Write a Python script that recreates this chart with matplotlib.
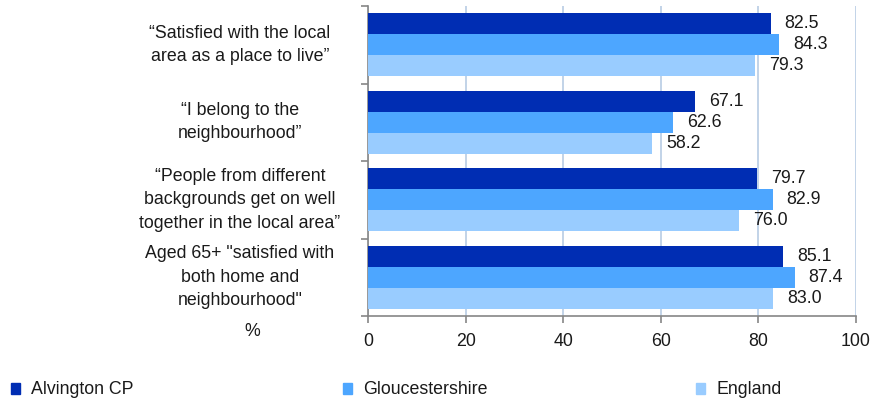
import matplotlib
matplotlib.use("Agg")
import matplotlib.pyplot as plt
import matplotlib.transforms as mtransforms
from matplotlib.patches import Rectangle
import numpy as np

plt.rcParams['font.family'] = ['Liberation Sans', 'DejaVu Sans']

categories = [
    "\u201cSatisfied with the local\narea as a place to live\u201d",
    "\u201cI belong to the\nneighbourhood\u201d",
    "\u201cPeople from different\nbackgrounds get on well\ntogether in the local area\u201d",
    "Aged 65+ \"satisfied with\nboth home and\nneighbourhood\"",
]
series_names = ["Alvington CP", "Gloucestershire", "England"]
alvington = [82.5, 67.1, 79.7, 85.1]
gloucestershire = [84.3, 62.6, 82.9, 87.4]
england = [79.3, 58.2, 76.0, 83.0]
xticks = [0, 20, 40, 60, 80, 100]

colors = ["#002DB3", "#4DA6FF", "#99CCFF"]
grid_color = "#B8CCE4"
axis_color = "#868686"
fs = 12.8

fig = plt.figure(figsize=(8.72, 4.01), dpi=100)
ax = fig.add_axes([368/872, 1-316/401, (856-368)/872, (316-6)/401])

y = np.arange(len(categories))
h = 0.272
for i, (name, vals) in enumerate(zip(series_names, [alvington, gloucestershire, england])):
    bars = ax.barh(y + (i-1)*h, vals, height=h, color=colors[i], zorder=3, label=name)
    for b, v in zip(bars, vals):
        ax.annotate(f"{v:.1f}", (v, b.get_y() + b.get_height()/2),
                    xytext=(10, 0), textcoords="offset points",
                    ha="left", va="center", fontsize=fs, color="#1a1a1a")

ax.set_xlim(0, 100)
ax.set_ylim(3.5, -0.5)
ax.set_xticks(xticks)
ax.set_xticklabels([str(t) for t in xticks], fontsize=fs)
ax.xaxis.grid(True, color=grid_color, linewidth=1.2, zorder=0)
ax.set_axisbelow(True)
ax.set_yticks([])
ax.set_yticks(np.arange(-0.5, 4.0, 1.0), minor=True)
ax.tick_params(axis='y', which='minor', length=5, color=axis_color, width=1.2, direction='out')
ax.tick_params(axis='x', length=5, color=axis_color, width=1.2, pad=7, labelcolor="#1a1a1a")
for s in ["top", "right"]:
    ax.spines[s].set_visible(False)
for s in ["left", "bottom"]:
    ax.spines[s].set_color(axis_color)
    ax.spines[s].set_linewidth(1.2)

trans = mtransforms.blended_transform_factory(ax.transAxes, ax.transData)
xc = (240 - 368) / 488
for yi, lab in zip(y, categories):
    ax.text(xc, yi, lab, transform=trans, ha="center", va="center",
            multialignment="center", fontsize=fs, linespacing=1.5, color="#1a1a1a")

fig.text(252/872, 1-332/401, "%", ha="center", va="center", fontsize=fs, color="#1a1a1a")

# legend
leg_sq_x = [11, 343, 696]
leg_tx_x = [31, 363, 716]
ly = 389
for c, name, sx, tx in zip(colors, series_names, leg_sq_x, leg_tx_x):
    fig.add_artist(Rectangle((sx/872, 1-(ly+5)/401), 9/872, 11/401,
                             transform=fig.transFigure, color=c))
    fig.text(tx/872, 1-ly/401, name, ha="left", va="center", fontsize=fs, color="#1a1a1a")

fig.savefig("out.png", dpi=100)
